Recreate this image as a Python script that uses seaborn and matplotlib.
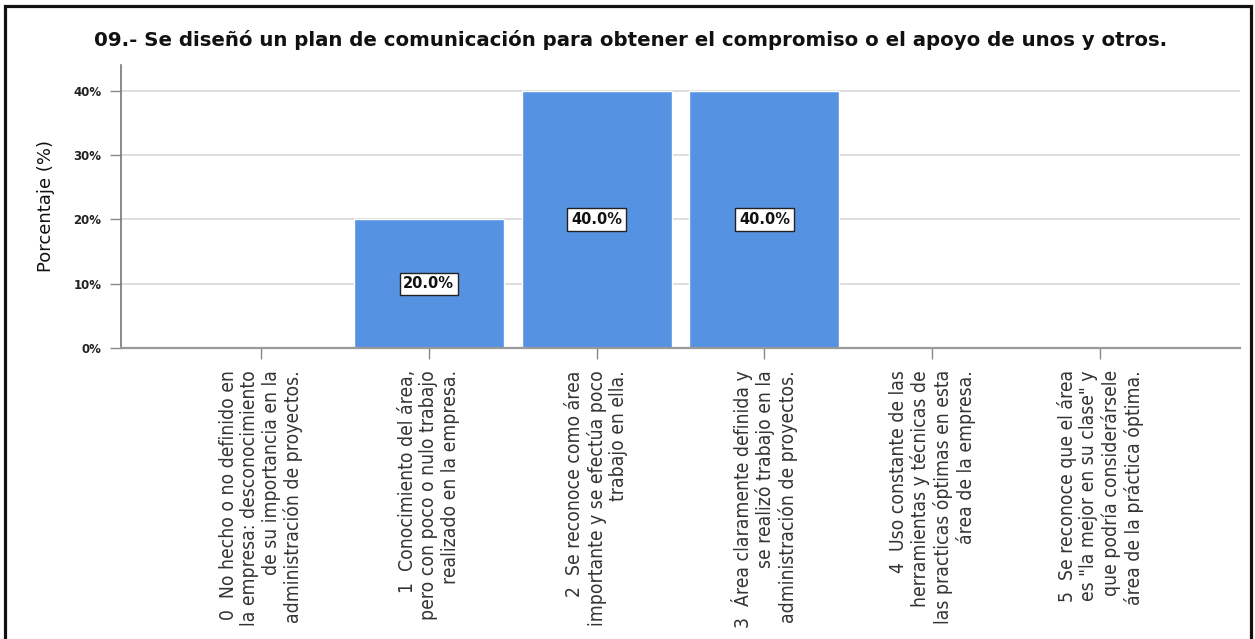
import matplotlib
matplotlib.use("Agg")
import matplotlib.pyplot as plt
import matplotlib.patches as mpatches
import seaborn as sns
import pandas as pd

# Response categories (x axis) and the share of answers for each
categories = [
    "0  No hecho o no definido en\nla empresa: desconocimiento\nde su importancia en la\nadministración de proyectos.",
    "1  Conocimiento del área,\npero con poco o nulo trabajo\nrealizado en la empresa.",
    "2  Se reconoce como área\nimportante y se efectúa poco\ntrabajo en ella.",
    "3  Área claramente definida y\nse realizó trabajo en la\nadministración de proyectos.",
    "4  Uso constante de las\nherramientas y técnicas de\nlas practicas óptimas en esta\nárea de la empresa.",
    "5  Se reconoce que el área\nes \"la mejor en su clase\" y\nque podría considerársele\nárea de la práctica óptima.",
]
percentages = [0.0, 20.0, 40.0, 40.0, 0.0, 0.0]
y_ticks = [0, 10, 20, 30, 40]
y_tick_labels = ["0%", "10%", "20%", "30%", "40%"]

title = "09.- Se diseñó un plan de comunicación para obtener el compromiso o el apoyo de unos y otros."
y_label = "Porcentaje (%)"

df = pd.DataFrame({"categoria": categories, "porcentaje": percentages})

sns.set_theme(style="white")
plt.rcParams["font.family"] = ["DejaVu Sans"]

W, H = 1255, 639
fig = plt.figure(figsize=(W / 100, H / 100), dpi=100)
fig.patch.set_facecolor("white")
ax = fig.add_axes([121 / W, 1 - 348 / H, (1240 - 121) / W, (348 - 65) / H])

bar_color = "#5592E1"
sns.barplot(data=df, x="categoria", y="porcentaje", order=categories,
            color=bar_color, saturation=1, width=0.894, ax=ax, zorder=2)

ax.set_xlim(-0.834, len(categories) - 1 + 0.834)
ax.set_ylim(0, 44)

# horizontal reference lines
ax.set_yticks(y_ticks)
ax.set_yticklabels(y_tick_labels, fontsize=8.5, fontweight="bold", color="#222222")
for yv in y_ticks[1:]:
    ax.axhline(yv, color="#d8d8d8", lw=1.2, zorder=1)

ax.set_xticks(range(len(categories)))
ax.set_xticklabels(categories, rotation=90, ha="center", va="top",
                   multialignment="right", fontsize=13.9,
                   fontstretch="condensed", color="#333333", linespacing=1.17)

ax.tick_params(axis="y", length=8, width=1, color="#888888", pad=6, left=True)
ax.tick_params(axis="x", length=8, width=1, color="#888888", pad=8, bottom=True)

for side in ("top", "right"):
    ax.spines[side].set_visible(False)
ax.spines["left"].set_color("#777777")
ax.spines["left"].set_linewidth(1.2)
ax.spines["bottom"].set_color("#999999")
ax.spines["bottom"].set_linewidth(1.6)

ax.set_xlabel("")
ax.set_ylabel(y_label, fontsize=13, color="#111111", labelpad=13)

# value labels in the middle of each non-empty bar
for i, v in enumerate(percentages):
    if v > 0:
        ax.text(i, v / 2, f"{v:.1f}%", ha="center", va="center",
                fontsize=10.5, fontweight="bold", color="#111111", zorder=4,
                bbox=dict(boxstyle="square,pad=0.25", facecolor="white",
                          edgecolor="#222222", linewidth=1))

fig.text(0.5025, 1 - 40 / H, title, ha="center", va="center",
         fontsize=14.2, fontweight="bold", color="#111111")

# outer frame around the chart
frame = mpatches.Rectangle((4.5 / W, -0.05), (1250.5 - 4.5) / W, 1.05 - 5.5 / H,
                           transform=fig.transFigure, fill=False,
                           edgecolor="#111111", linewidth=2.3, clip_on=False)
fig.patches.append(frame)

fig.savefig("out.png", dpi=100, facecolor="white")
